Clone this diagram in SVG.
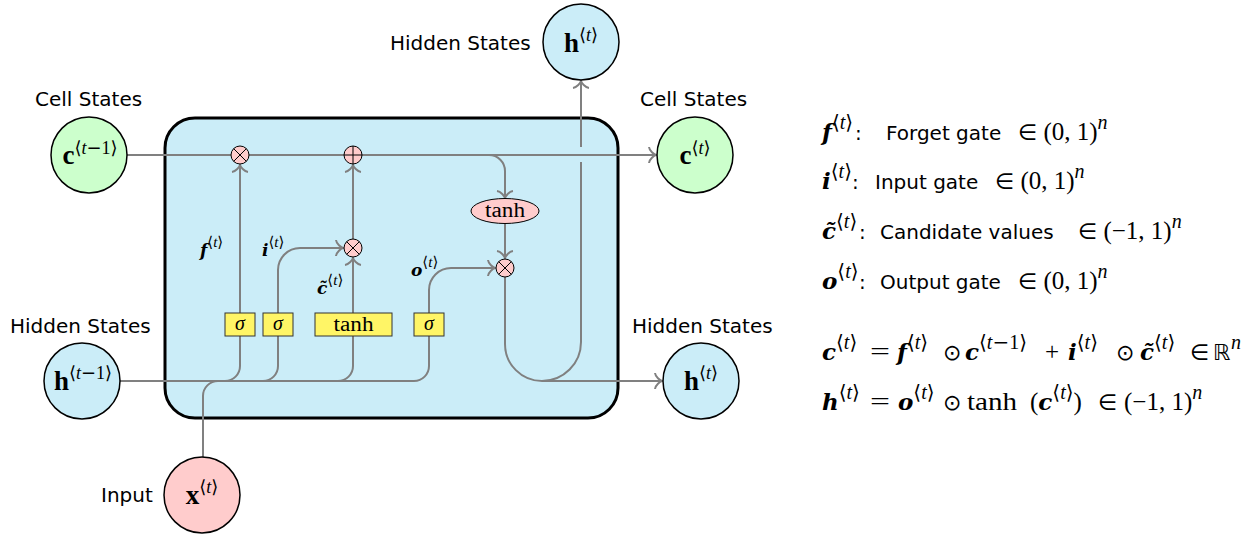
<svg xmlns="http://www.w3.org/2000/svg" width="1258" height="535" viewBox="0 0 1258 535">
<defs>
<style>
.lbl{font-family:"DejaVu Sans","Liberation Sans",sans-serif;font-size:20px;fill:#000}
.m{font-family:"Liberation Serif","DejaVu Serif","DejaVu Sans",serif;font-size:25px;fill:#000}
.bi{font-family:"DejaVu Serif","Liberation Serif",serif;font-size:23px;font-weight:bold;font-style:italic}
.sup{font-family:"Liberation Serif","DejaVu Serif",serif;font-size:20px;font-weight:normal}
.it{font-style:italic}
.br{font-family:"DejaVu Sans",sans-serif;font-style:normal;font-weight:normal}
.sym{font-family:"DejaVu Sans",sans-serif;font-size:22px}
.nb{font-family:"Liberation Serif","DejaVu Serif",serif;font-size:27px;font-weight:bold}
.ns{font-family:"Liberation Serif","DejaVu Serif","DejaVu Sans",serif;font-size:18px;font-weight:normal}
.gl{font-family:"DejaVu Serif","Liberation Serif",serif;font-size:17px;font-weight:bold;font-style:italic}
.gls{font-family:"Liberation Serif","DejaVu Serif",serif;font-size:15px;font-weight:normal;font-style:normal}
.conn{fill:none;stroke:#808080;stroke-width:2}
.arr{marker-end:url(#arrow)}
.op{fill:#ffcccc;stroke:#000;stroke-width:1}
.opl{fill:none;stroke:#000;stroke-width:1}
.gate{fill:#fff566;stroke:#333;stroke-width:1}
.gt{font-family:"Liberation Serif","DejaVu Serif",serif;font-size:20px;fill:#000;text-anchor:middle}
.node{stroke:#000;stroke-width:1.5}
.blue{fill:#cbedf8}
.green{fill:#ccffcc}
.pink{fill:#ffcccc}
</style>
<marker id="arrow" viewBox="-10 -10 20 20" refX="0" refY="0" markerWidth="20" markerHeight="20" markerUnits="userSpaceOnUse" orient="auto">
<path d="M-7,-8 C-6.5,-4 -2,-0.6 0,0 C-2,0.6 -6.5,4 -7,8" fill="none" stroke="#808080" stroke-width="2"/>
</marker>
</defs>
<rect width="1258" height="535" fill="#fff"/>

<g id="cell-box">
<rect x="165" y="118" width="453" height="300" rx="30" ry="30" fill="#cbedf8" stroke="#000" stroke-width="3"/>
</g>

<g id="connectors">
<path class="conn arr" d="M127,155 H656"/>
<path class="conn" d="M120,381 H225 A15,15 0 0 0 240,366 V336"/>
<path class="conn" d="M120,381 H263 A15,15 0 0 0 278,366 V336"/>
<path class="conn" d="M120,381 H338 A15,15 0 0 0 353,366 V336"/>
<path class="conn" d="M120,381 H414 A15,15 0 0 0 429,366 V336"/>
<path class="conn" d="M203,457 V396 A15,15 0 0 1 218,381 H230"/>
<path class="conn arr" d="M240,313 V165"/>
<path class="conn arr" d="M278,313 V270 A22,22 0 0 1 300,248 H343"/>
<path class="conn arr" d="M353,313 V258"/>
<path class="conn arr" d="M353,239 V165"/>
<path class="conn arr" d="M429,313 V290 A22,22 0 0 1 451,268 H495"/>
<path class="conn arr" d="M467,155 H489 A16,16 0 0 1 505,171 V198"/>
<path class="conn arr" d="M505,224 V258"/>
<path class="conn arr" d="M505,277 V344 A37,37 0 0 0 542,381 H662"/>
<path class="conn" d="M542,381 A39,39 0 0 0 581,342 V162"/>
<path class="conn arr" d="M581,147 V81"/>
</g>

<g id="op-forget">
<circle class="op" cx="240" cy="155" r="9"/>
<path class="opl" d="M233.6,148.6 L246.4,161.4 M246.4,148.6 L233.6,161.4"/>
</g>
<g id="op-add">
<circle class="op" cx="353" cy="155" r="9"/>
<path class="opl" d="M344,155 H362 M353,146 V164"/>
</g>
<g id="op-input">
<circle class="op" cx="353" cy="248" r="9"/>
<path class="opl" d="M346.6,241.6 L359.4,254.4 M359.4,241.6 L346.6,254.4"/>
</g>
<g id="op-output">
<circle class="op" cx="505" cy="268" r="9"/>
<path class="opl" d="M498.6,261.6 L511.4,274.4 M511.4,261.6 L498.6,274.4"/>
</g>
<g id="tanh-cell">
<ellipse class="op" cx="505" cy="211" rx="34" ry="12.5"/>
<text class="gt" x="505" y="217" textLength="40" lengthAdjust="spacingAndGlyphs">tanh</text>
</g>

<g id="gate-f">
<rect class="gate" x="225" y="313" width="30" height="23"/>
<text class="gt it" x="240" y="330">σ</text>
</g>
<g id="gate-i">
<rect class="gate" x="263" y="313" width="30" height="23"/>
<text class="gt it" x="278" y="330">σ</text>
</g>
<g id="gate-c">
<rect class="gate" x="315" y="313" width="77" height="23"/>
<text class="gt" x="353.5" y="331" textLength="40" lengthAdjust="spacingAndGlyphs">tanh</text>
</g>
<g id="gate-o">
<rect class="gate" x="414" y="313" width="30" height="23"/>
<text class="gt it" x="429" y="330">σ</text>
</g>

<g id="gate-labels">
<text class="gl" x="200" y="256">f<tspan class="gls" dy="-9"><tspan class="br">⟨</tspan><tspan class="it">t</tspan><tspan class="br">⟩</tspan></tspan></text>
<text class="gl" x="262" y="256">i<tspan class="gls" dy="-9"><tspan class="br">⟨</tspan><tspan class="it">t</tspan><tspan class="br">⟩</tspan></tspan></text>
<text class="gl" x="317" y="294">c̃<tspan class="gls" dy="-9"><tspan class="br">⟨</tspan><tspan class="it">t</tspan><tspan class="br">⟩</tspan></tspan></text>
<text class="gl" x="411" y="276">o<tspan class="gls" dy="-9"><tspan class="br">⟨</tspan><tspan class="it">t</tspan><tspan class="br">⟩</tspan></tspan></text>
</g>

<g id="node-c-prev">
<circle class="node green" cx="89" cy="155" r="38"/>
<text x="90" y="164" text-anchor="middle"><tspan class="nb">c</tspan><tspan class="ns" dy="-10"><tspan class="br">⟨</tspan><tspan class="it">t</tspan><tspan class="br">−</tspan>1<tspan class="br">⟩</tspan></tspan></text>
<text class="lbl" x="35" y="106">Cell States</text>
</g>
<g id="node-h-prev">
<circle class="node blue" cx="82" cy="381" r="38"/>
<text x="83" y="390" text-anchor="middle"><tspan class="nb">h</tspan><tspan class="ns" dy="-11"><tspan class="br">⟨</tspan><tspan class="it">t</tspan><tspan class="br">−</tspan>1<tspan class="br">⟩</tspan></tspan></text>
<text class="lbl" x="10" y="333">Hidden States</text>
</g>
<g id="node-x">
<circle class="node pink" cx="202" cy="495" r="38"/>
<text x="202" y="504" text-anchor="middle"><tspan class="nb">x</tspan><tspan class="ns" dy="-11"><tspan class="br">⟨</tspan><tspan class="it">t</tspan><tspan class="br">⟩</tspan></tspan></text>
<text class="lbl" x="101" y="502">Input</text>
</g>
<g id="node-h-top">
<circle class="node blue" cx="581" cy="42" r="38"/>
<text x="581" y="52" text-anchor="middle"><tspan class="nb">h</tspan><tspan class="ns" dy="-11"><tspan class="br">⟨</tspan><tspan class="it">t</tspan><tspan class="br">⟩</tspan></tspan></text>
<text class="lbl" x="390" y="50">Hidden States</text>
</g>
<g id="node-c-next">
<circle class="node green" cx="695" cy="155" r="38"/>
<text x="695" y="164" text-anchor="middle"><tspan class="nb">c</tspan><tspan class="ns" dy="-10"><tspan class="br">⟨</tspan><tspan class="it">t</tspan><tspan class="br">⟩</tspan></tspan></text>
<text class="lbl" x="640" y="106">Cell States</text>
</g>
<g id="node-h-next">
<circle class="node blue" cx="701" cy="381" r="38"/>
<text x="701" y="390" text-anchor="middle"><tspan class="nb">h</tspan><tspan class="ns" dy="-11"><tspan class="br">⟨</tspan><tspan class="it">t</tspan><tspan class="br">⟩</tspan></tspan></text>
<text class="lbl" x="632" y="333">Hidden States</text>
</g>

<g id="legend">
<text class="m" x="822" y="140"><tspan class="bi">f</tspan><tspan class="sup" dy="-11"><tspan class="br">⟨</tspan><tspan class="it">t</tspan><tspan class="br">⟩</tspan></tspan></text>
<text class="lbl" x="855" y="140">:</text>
<text class="lbl" x="886" y="140">Forget gate</text>
<text class="m" x="1018" y="140"><tspan class="sym">∈</tspan> (0, 1)<tspan class="sup it" dy="-11">n</tspan></text>

<text class="m" x="822" y="189"><tspan class="bi">i</tspan><tspan class="sup" dy="-11"><tspan class="br">⟨</tspan><tspan class="it">t</tspan><tspan class="br">⟩</tspan></tspan></text>
<text class="lbl" x="852" y="189">:</text>
<text class="lbl" x="875" y="189">Input gate</text>
<text class="m" x="995" y="189"><tspan class="sym">∈</tspan> (0, 1)<tspan class="sup it" dy="-11">n</tspan></text>

<text class="m" x="822" y="239"><tspan class="bi">c̃</tspan><tspan class="sup" dy="-11"><tspan class="br">⟨</tspan><tspan class="it">t</tspan><tspan class="br">⟩</tspan></tspan></text>
<text class="lbl" x="859" y="239">:</text>
<text class="lbl" x="880" y="239">Candidate values</text>
<text class="m" x="1078" y="239"><tspan class="sym">∈</tspan> (−1, 1)<tspan class="sup it" dy="-11">n</tspan></text>

<text class="m" x="822" y="289"><tspan class="bi">o</tspan><tspan class="sup" dy="-11"><tspan class="br">⟨</tspan><tspan class="it">t</tspan><tspan class="br">⟩</tspan></tspan></text>
<text class="lbl" x="859" y="289">:</text>
<text class="lbl" x="880" y="289">Output gate</text>
<text class="m" x="1018" y="289"><tspan class="sym">∈</tspan> (0, 1)<tspan class="sup it" dy="-11">n</tspan></text>
</g>

<g id="equations">
<text class="m" x="822" y="360"><tspan class="bi">c</tspan><tspan class="sup" dy="-11"><tspan class="br">⟨</tspan><tspan class="it">t</tspan><tspan class="br">⟩</tspan></tspan></text>
<text class="m" x="870" y="360" textLength="20" lengthAdjust="spacingAndGlyphs">=</text>
<text class="m" x="897" y="360"><tspan class="bi">f</tspan><tspan class="sup" dy="-11"><tspan class="br">⟨</tspan><tspan class="it">t</tspan><tspan class="br">⟩</tspan></tspan></text>
<text class="m sym" x="943" y="360">⊙</text>
<text class="m" x="965" y="360"><tspan class="bi">c</tspan><tspan class="sup" dy="-11"><tspan class="br">⟨</tspan><tspan class="it">t</tspan><tspan class="br">−</tspan>1<tspan class="br">⟩</tspan></tspan></text>
<text class="m" x="1045" y="360">+</text>
<text class="m" x="1068" y="360"><tspan class="bi">i</tspan><tspan class="sup" dy="-11"><tspan class="br">⟨</tspan><tspan class="it">t</tspan><tspan class="br">⟩</tspan></tspan></text>
<text class="m sym" x="1116" y="360">⊙</text>
<text class="m" x="1140" y="360"><tspan class="bi">c̃</tspan><tspan class="sup" dy="-11"><tspan class="br">⟨</tspan><tspan class="it">t</tspan><tspan class="br">⟩</tspan></tspan></text>
<text class="m sym" x="1190" y="360">∈</text>
<text class="m sym" x="1213" y="360">ℝ</text>
<text class="m sup it" x="1231" y="349">n</text>

<text class="m" x="822" y="410"><tspan class="bi">h</tspan><tspan class="sup" dy="-11"><tspan class="br">⟨</tspan><tspan class="it">t</tspan><tspan class="br">⟩</tspan></tspan></text>
<text class="m" x="870" y="410" textLength="20" lengthAdjust="spacingAndGlyphs">=</text>
<text class="m" x="898" y="410"><tspan class="bi">o</tspan><tspan class="sup" dy="-11"><tspan class="br">⟨</tspan><tspan class="it">t</tspan><tspan class="br">⟩</tspan></tspan></text>
<text class="m sym" x="943" y="410">⊙</text>
<text class="m" x="967" y="410" textLength="50" lengthAdjust="spacingAndGlyphs">tanh</text>
<text class="m" x="1030" y="410">(<tspan class="bi">c</tspan><tspan class="sup" dy="-11"><tspan class="br">⟨</tspan><tspan class="it">t</tspan><tspan class="br">⟩</tspan></tspan><tspan dy="11">)</tspan></text>
<text class="m sym" x="1098" y="410">∈</text>
<text class="m" x="1124" y="410">(−1, 1)<tspan class="sup it" dy="-11">n</tspan></text>
</g>
</svg>
